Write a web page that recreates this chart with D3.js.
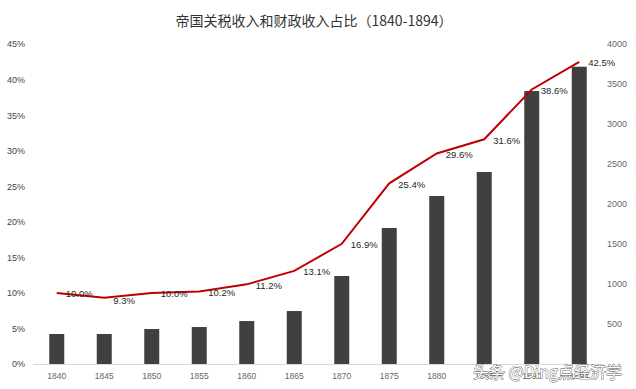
<!DOCTYPE html>
<html>
  <head>
    <meta charset="utf-8">
    <style>
      body { margin: 0; background: #fff; }
      svg { font-family: "Noto Sans CJK SC", "Liberation Sans", sans-serif; }
    </style>
  </head>

  <body>
    <div id='graph'></div>

    <script src="https://cdn.jsdelivr.net/npm/d3@7"></script>
    <script>

    var years = ['1840','1845','1850','1855','1860','1865','1870','1875','1880','1885','1890','1894'];

    // customs revenue (bars, right axis)
    var customs = [375, 375, 437, 462, 537, 662, 1100, 1700, 2100, 2400, 3412, 3716];

    // share of fiscal revenue, % (line, left axis)
    var share = [10.0, 9.3, 10.0, 10.2, 11.2, 13.1, 16.9, 25.4, 29.6, 31.6, 38.6, 42.5];

    var leftTicks = [0, 5, 10, 15, 20, 25, 30, 35, 40, 45];
    var rightTicks = [500, 1000, 1500, 2000, 2500, 3000, 3500, 4000];

    var title = '帝国关税收入和财政收入占比（1840-1894）';
    var watermark = '头条 @Ding点经济学';

    var width = 636, height = 389;
    var m = {top: 44, right: 33, bottom: 25, left: 33};

    var svg = d3.select('#graph')
        .append('svg')
        .attr('width', width)
        .attr('height', height);

    var x = d3.scaleBand()
        .domain(years)
        .range([m.left, width - m.right]);

    var yL = d3.scaleLinear()
        .domain([0, 45])
        .range([height - m.bottom, m.top]);

    var yR = d3.scaleLinear()
        .domain([0, 4000])
        .range([height - m.bottom, m.top]);

    svg.append('text')
        .attr('x', 314)
        .attr('y', 20)
        .attr('text-anchor', 'middle')
        .attr('dominant-baseline', 'central')
        .style('font-size', '14px')
        .style('fill', '#333')
        .text(title);

    // left axis
    var axL = svg.append('g')
        .attr('transform', 'translate(' + (m.left - 8) + ',0)')
        .call(d3.axisLeft(yL).tickValues(leftTicks).tickSize(0).tickFormat(function(d){ return d + '%'; }));
    axL.select('.domain').remove();
    axL.selectAll('text')
        .attr('x', 0)
        .style('font-size', '9px')
        .style('fill', '#444')
        .style('font-family', '"Liberation Sans", sans-serif');

    // right axis
    var axR = svg.append('g')
        .attr('transform', 'translate(' + (width - m.right + 4) + ',0)')
        .call(d3.axisRight(yR).tickValues(rightTicks).tickSize(0).tickFormat(d3.format('d')));
    axR.select('.domain').remove();
    axR.selectAll('text')
        .attr('x', 0)
        .style('font-size', '9px')
        .style('fill', '#666')
        .style('font-family', '"Liberation Sans", sans-serif');

    // bottom axis
    var axB = svg.append('g')
        .attr('transform', 'translate(0,' + (height - m.bottom) + ')')
        .call(d3.axisBottom(x).tickSize(0).tickPadding(9));
    axB.select('.domain').attr('stroke', '#d9d9d9');
    axB.selectAll('text')
        .style('font-size', '8.5px')
        .style('fill', '#666')
        .style('font-family', '"Liberation Sans", sans-serif');

    var bw = 15;

    svg.selectAll('.bar')
        .data(customs)
        .enter()
        .append('rect')
        .attr('class', 'bar')
        .attr('x', function(d, i){ return x(years[i]) + x.bandwidth() / 2 - bw / 2; })
        .attr('y', function(d){ return yR(d); })
        .attr('width', bw)
        .attr('height', function(d){ return yR(0) - yR(d); })
        .style('fill', '#404040');

    var line = d3.line()
        .x(function(d, i){ return x(years[i]) + x.bandwidth() / 2; })
        .y(function(d){ return yL(d); });

    svg.append('path')
        .datum(share)
        .attr('d', line)
        .style('fill', 'none')
        .style('stroke', '#c00000')
        .style('stroke-width', 2);

    svg.selectAll('.lbl')
        .data(share)
        .enter()
        .append('text')
        .attr('class', 'lbl')
        .attr('x', function(d, i){ return x(years[i]) + x.bandwidth() / 2 + 9; })
        .attr('y', function(d, i){ return yL(d) + (i == 1 ? 3 : 1); })
        .attr('dominant-baseline', 'central')
        .style('font-size', '9.5px')
        .style('fill', '#262626')
        .style('font-family', '"Liberation Sans", sans-serif')
        .text(function(d){ return d.toFixed(1) + '%'; });

    svg.append('text')
        .attr('x', 473)
        .attr('y', 371)
        .attr('dominant-baseline', 'central')
        .style('font-size', '16px')
        .style('fill', '#fff')
        .style('stroke', '#555')
        .style('stroke-width', 0.8)
        .style('paint-order', 'stroke')
        .text(watermark);

    </script>

  </body>
</html>
